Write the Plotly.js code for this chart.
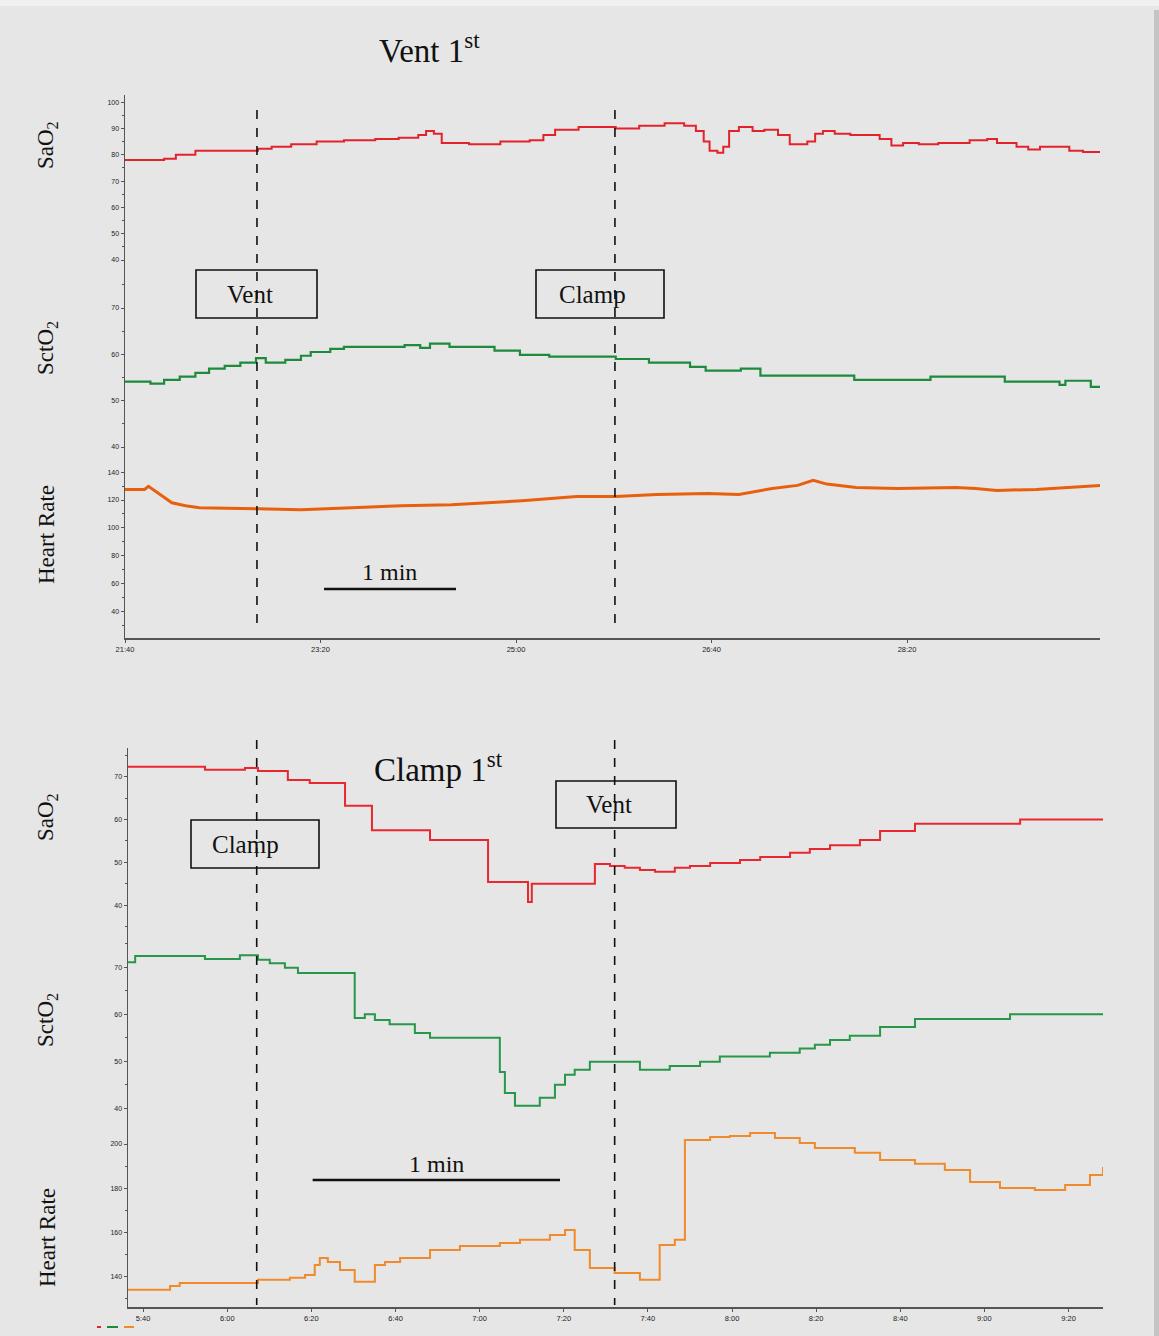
<!DOCTYPE html>
<html>
<head>
<meta charset="utf-8">
<script src="https://cdn.plot.ly/plotly-3.0.1.min.js"></script>
<style>html,body{margin:0;padding:0;background:#e6e6e6;}#chart{width:1159px;height:1336px;}</style>
</head>
<body>
<div id="chart"></div>
<script>
// ---------- Top panel: "Vent 1st" (time in seconds, 21:40 = 1300 s) ----------
const topSaO2_t = [1300,1320,1326,1336,1368,1375,1385,1398,1412,1428,1440,1450,1454,1458,1462,1476,1492,1507,1514,1520,1532,1551,1563,1576,1586,1592,1596,1599,1603,1606,1609,1614,1621,1627,1634,1640,1649,1653,1657,1663,1671,1686,1692,1698,1706,1716,1732,1741,1746,1756,1762,1768,1783,1790,1799];
const topSaO2_v = [78,78.5,80,81.5,82.3,83,84,85,85.5,86,86.5,87.5,89,88,84.5,84,85,85.5,87.5,89.5,90.5,90,91,92,91,89,85,81.5,80.8,83,89,90.5,89,89.5,87.5,84,85,88,89,88,87.5,86,83.5,84.5,84,84.5,85.5,86,84.5,83,82,83,81.5,81,81];

const topSctO2_t = [1300,1313,1320,1328,1336,1343,1351,1359,1367,1372,1382,1390,1395,1405,1412,1420,1443,1451,1456,1466,1489,1502,1517,1551,1568,1589,1597,1615,1625,1673,1712,1750,1778,1781,1794,1799];
const topSctO2_v = [54.1,53.7,54.5,55.2,56,56.9,57.5,58.2,59.2,58.2,58.8,59.7,60.5,61.2,61.6,61.6,62,61.4,62.3,61.6,60.8,59.9,59.5,59,58.2,57.3,56.5,56.9,55.4,54.5,55.2,54.1,53.4,54.3,53,53];

const topHR_t = [1300,1310,1312,1318,1324,1331,1338,1368,1390,1416,1441,1467,1503,1531,1551,1572,1598,1614,1631,1644,1652,1659,1674,1695,1725,1735,1746,1766,1782,1799];
const topHR_v = [127.6,127.6,129.8,124,118,115.9,114.5,113.7,113,114.5,115.9,116.6,119.5,122.5,122.5,124,124.7,124,128.3,130.5,134.2,131.4,129,128.3,129,128.3,126.9,127.6,129,130.5];

const topTickVals = [1300,1400,1500,1600,1700];
const topTickText = ["21:40","23:20","25:00","26:40","28:20"];

// ---------- Bottom panel: "Clamp 1st" (time in seconds, 5:40 = 340 s) ----------
const botSaO2_t = [336.4,354.7,364.2,367.3,374.4,379.6,388,394.4,408.2,422,431.5,432.4,447.4,451,454.5,458.1,461.7,466.4,470,474.8,481.9,486.7,493.8,498.5,503.3,510.4,515.2,523.5,548.5,568.2];
const botSaO2_v = [72.3,71.6,72,71.3,69.2,68.5,63.2,57.5,55.2,45.4,40.7,45,49.6,49.1,48.7,48.2,47.8,48.7,49.1,49.8,50.5,51.2,52.2,53.1,54,55.2,57.3,59,60,60];

const botSctO2_t = [336.4,338.1,354.7,363,367.3,370.1,373.7,376.8,390.3,392.7,395.1,398.6,404.6,408.2,424.8,426,428.4,434.3,437.9,440.3,442.6,446.2,458.1,465.2,472.4,477.1,489,496.1,499.7,503.3,508,515.2,523.5,546.1,568.2];
const botSctO2_v = [71.1,72.4,71.8,72.6,71.6,70.9,69.9,68.8,59.2,60,58.8,57.9,56,55,47.7,43.2,40.5,42.2,45,47.1,48.2,49.9,48.2,49,49.9,51,51.8,52.7,53.5,54.5,55.4,57.3,59,60,60];

const botHR_t = [336.4,346.4,348.7,367.3,374.9,378.5,380.8,382,383.9,386.8,390.3,391.5,395.1,397.5,401.1,408.2,415.3,424.8,429.6,436.7,440.3,442.6,446.2,452.1,458.1,461.7,462.8,466.4,468.8,474.8,479.5,484.3,490.2,496.1,499.7,509.2,515.2,523.5,530.6,536.6,543.7,552,559.2,565.1,568.2];
const botHR_v = [134,135.7,137.1,138.5,139.4,140.7,145.2,148.4,146.6,143,137.6,137.6,145.2,146.6,148.4,152,153.8,155.2,156.6,158.8,161.1,152,143.9,141.6,138.5,138.5,154.3,156.6,201.8,203.2,203.6,205,202.7,200.5,198.2,196,192.8,191,188.2,182.8,180.1,179.2,181.4,186,189.6];

const botTickVals = [340,360,380,400,420,440,460,480,500,520,540,560];
const botTickText = ["5:40","6:00","6:20","6:40","7:00","7:20","7:40","8:00","8:20","8:40","9:00","9:20"];

// ---------- helpers (pixel -> paper) ----------
const W = 1159, H = 1336;
const px = x => x / W;
const py = y => 1 - y / H;

const yTickFont = {family: "Liberation Sans, Arial", size: 7, color: "#222"};
const xTickFont = {family: "Liberation Sans, Arial", size: 7.5, color: "#222"};
function yax(domTop, domBot, range, dtick, minorDtick, anchor) {
  return {
    domain: [py(domBot), py(domTop)], range: range, anchor: anchor,
    showline: true, linecolor: "#555", linewidth: 1.5,
    ticks: "outside", ticklen: 3, tickwidth: 1, tickcolor: "#555",
    dtick: dtick, tick0: 0, tickfont: yTickFont,
    minor: {dtick: minorDtick, ticks: "outside", ticklen: 2, tickcolor: "#555"},
    showgrid: false, zeroline: false, automargin: false, fixedrange: true
  };
}

const traces = [
  {x: topSaO2_t, y: topSaO2_v, xaxis: "x", yaxis: "y", mode: "lines", line: {color: "#e3232b", width: 2, shape: "hv"}},
  {x: topSctO2_t, y: topSctO2_v, xaxis: "x", yaxis: "y2", mode: "lines", line: {color: "#1d8a3c", width: 2.2, shape: "hv"}},
  {x: topHR_t, y: topHR_v, xaxis: "x", yaxis: "y3", mode: "lines", line: {color: "#e8600e", width: 3}},
  {x: botSaO2_t, y: botSaO2_v, xaxis: "x2", yaxis: "y4", mode: "lines", line: {color: "#e8282e", width: 2, shape: "hv"}},
  {x: botSctO2_t, y: botSctO2_v, xaxis: "x2", yaxis: "y5", mode: "lines", line: {color: "#27974a", width: 2, shape: "hv"}},
  {x: botHR_t, y: botHR_v, xaxis: "x2", yaxis: "y6", mode: "lines", line: {color: "#f08a2a", width: 2, shape: "hv"}}
];

const serif = "Liberation Serif, Times New Roman, serif";
const shapes = [];
const annotations = [];
function ann(o) {
  annotations.push(Object.assign({showarrow: false, xanchor: "center", yanchor: "middle"}, o));
}

// page edge effects
shapes.push({type: "rect", xref: "paper", yref: "paper", x0: 0, x1: 1, y0: py(6), y1: 1, fillcolor: "#f0f0f0", line: {width: 0}, layer: "below"});
shapes.push({type: "rect", xref: "paper", yref: "paper", x0: px(1154), x1: 1, y0: 0, y1: py(10), fillcolor: "#c4c4c4", line: {width: 0}, layer: "below"});

// dashed event lines (data x)
function vline(xref, xv, yTop, yBot) {
  shapes.push({type: "line", xref: xref, yref: "paper", x0: xv, x1: xv, y0: py(yTop), y1: py(yBot), line: {color: "#111", width: 1.6, dash: "dash"}});
}
vline("x", 1367.5, 110, 630);
vline("x", 1550.6, 110, 630);
vline("x2", 367, 740, 1305);
vline("x2", 452.1, 740, 1305);

// scale bars
shapes.push({type: "line", xref: "x", yref: "paper", x0: 1401.8, x1: 1469.3, y0: py(589), y1: py(589), line: {color: "#111", width: 2.5}});
shapes.push({type: "line", xref: "x2", yref: "paper", x0: 380.3, x1: 439.1, y0: py(1180), y1: py(1180), line: {color: "#111", width: 2.5}});
ann({xref: "x", yref: "paper", x: 1435.5, y: py(572), text: "1 min", font: {family: serif, size: 24, color: "#111"}});
ann({xref: "x2", yref: "paper", x: 409.7, y: py(1164), text: "1 min", font: {family: serif, size: 24, color: "#111"}});

// labelled boxes
function box(x0, x1, y0, y1, label, dx) {
  shapes.push({type: "rect", xref: "paper", yref: "paper", x0: px(x0), x1: px(x1), y0: py(y1), y1: py(y0), line: {color: "#111", width: 1.6}, fillcolor: "rgba(0,0,0,0)"});
  ann({xref: "paper", yref: "paper", x: px((x0 + x1) / 2 + dx), y: py((y0 + y1) / 2), text: label, font: {family: serif, size: 25, color: "#111"}});
}
box(196, 317, 270, 318, "Vent", -7);
box(536, 664, 270, 318, "Clamp", -8);
box(191, 319, 820, 868, "Clamp", -9);
box(556, 676, 781, 828, "Vent", -7);

// panel titles
ann({xref: "paper", yref: "paper", x: px(429), y: py(48), text: "Vent 1<sup>st</sup>", font: {family: serif, size: 33, color: "#111"}});
ann({xref: "paper", yref: "paper", x: px(439), y: py(767), text: "Clamp 1<sup>st</sup>", font: {family: serif, size: 33, color: "#111"}});

// axis side titles
function ytitle(y, text) {
  ann({xref: "paper", yref: "paper", x: px(47), y: py(y), text: text, textangle: -90, font: {family: serif, size: 23, color: "#111"}});
}
ytitle(145, "SaO<sub>2</sub>");
ytitle(348, "SctO<sub>2</sub>");
ytitle(535, "Heart Rate");
ytitle(817, "SaO<sub>2</sub>");
ytitle(1020, "SctO<sub>2</sub>");
ytitle(1238, "Heart Rate");

// tiny legend marks bottom-left
shapes.push({type: "line", xref: "paper", yref: "paper", x0: px(97), x1: px(101), y0: py(1327), y1: py(1327), line: {color: "#e3232b", width: 2}});
shapes.push({type: "line", xref: "paper", yref: "paper", x0: px(107), x1: px(118), y0: py(1327), y1: py(1327), line: {color: "#1d8a3c", width: 2}});
shapes.push({type: "line", xref: "paper", yref: "paper", x0: px(124), x1: px(134), y0: py(1327), y1: py(1327), line: {color: "#f08a2a", width: 2}});

const xCommon = {
  showline: true, linecolor: "#555", linewidth: 1.5, ticks: "outside", ticklen: 3, tickcolor: "#555",
  tickfont: xTickFont, showgrid: false, zeroline: false, automargin: false, fixedrange: true
};

const layout = {
  width: W, height: H,
  margin: {l: 0, r: 0, t: 0, b: 0},
  paper_bgcolor: "#e6e6e6", plot_bgcolor: "rgba(0,0,0,0)",
  showlegend: false,
  xaxis: Object.assign({}, xCommon, {domain: [px(125), px(1100)], range: [1300, 1798.7], anchor: "y3", tickvals: topTickVals, ticktext: topTickText}),
  xaxis2: Object.assign({}, xCommon, {domain: [px(128), px(1103)], range: [336.4, 568.2], anchor: "y6", tickvals: botTickVals, ticktext: botTickText}),
  yaxis: yax(95, 270, [36.2, 102.7], 10, 5, "x"),
  yaxis2: yax(270, 460, [37.2, 78.2], 10, 5, "x"),
  yaxis3: yax(460, 638, [21, 148.7], 20, 10, "x"),
  yaxis4: yax(748, 935, [33, 76.7], 10, 5, "x2"),
  yaxis5: yax(935, 1125, [36.4, 76.9], 10, 5, "x2"),
  yaxis6: yax(1125, 1307, [126.2, 208.6], 20, 10, "x2"),
  shapes: shapes,
  annotations: annotations
};

Plotly.newPlot("chart", traces, layout, {displayModeBar: false, staticPlot: true});
</script>
</body>
</html>
